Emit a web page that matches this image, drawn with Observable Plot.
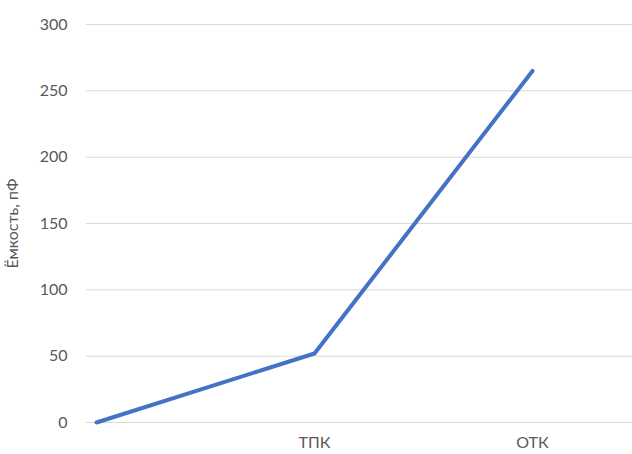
<!DOCTYPE html>
<html>
<head>
<meta charset="utf-8">
<script src="https://cdn.jsdelivr.net/npm/d3@7"></script>
<script src="https://cdn.jsdelivr.net/npm/@observablehq/plot@0.6"></script>
<style>
  html, body { margin: 0; padding: 0; background: #fff; }
  #chart { width: 632px; height: 454px; }
</style>
</head>
<body>
<div id="chart"></div>
<script>
const categories = ["", "ТПК", "ОТК"];
const values = [0, 52, 265];
const yTicks = [0, 50, 100, 150, 200, 250, 300];

const data = categories.map((c, i) => ({cat: c, value: values[i]}));

const chart = Plot.plot({
  width: 632,
  height: 454,
  marginTop: 24,
  marginBottom: 32,
  marginLeft: 86,
  marginRight: 0,
  style: {fontFamily: "Lato, 'Open Sans', sans-serif", fontSize: "16px", color: "#595959", background: "#fff"},
  x: {type: "point", domain: categories, padding: 0.2466, align: 0.093, label: null},
  y: {domain: [0, 300], ticks: yTicks, label: "Ёмкость, пФ"},
  marks: [
    Plot.gridY(yTicks, {stroke: "#d9d9d9", strokeOpacity: 1, strokeWidth: 1}),
    Plot.axisY(yTicks, {tickSize: 0, tickPadding: 19, label: "Ёмкость, пФ", labelAnchor: "center", labelArrow: "none", labelOffset: 80, fontSize: 16, fill: "#595959"}),
    Plot.axisX({tickSize: 0, tickPadding: 14, label: null, fontSize: 16, fill: "#595959"}),
    Plot.line(data, {x: "cat", y: "value", stroke: "#4472C4", strokeWidth: 4, strokeLinejoin: "round", strokeLinecap: "round"})
  ]
});
document.getElementById("chart").appendChild(chart);
</script>
</body>
</html>
